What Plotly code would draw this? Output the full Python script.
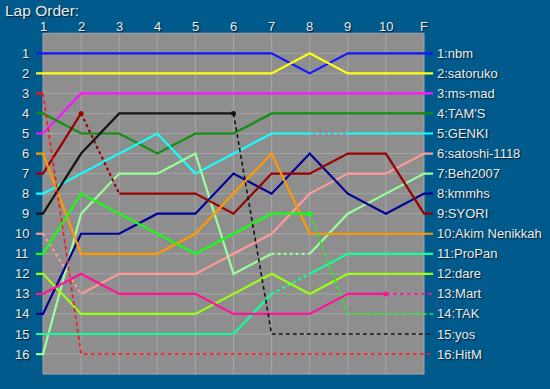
import plotly.graph_objects as go

# ---------------- data ----------------
lap_labels = ["1", "2", "3", "4", "5", "6", "7", "8", "9", "10", "F"]
laps = list(range(1, 12))

drivers = ["nbm", "satoruko", "ms-mad", "TAM'S", "GENKI", "satoshi-1118", "Beh2007",
           "kmmhs", "SYORI", "Akim Nenikkah", "ProPan", "dare", "Mart", "TAK", "yos", "HitM"]

pos_nbm = [1, 1, 1, 1, 1, 1, 1, 2, 1, 1, 1]
pos_satoruko = [2, 2, 2, 2, 2, 2, 2, 1, 2, 2, 2]
pos_msmad = [5, 3, 3, 3, 3, 3, 3, 3, 3, 3, 3]
pos_tams = [4, 5, 5, 6, 5, 5, 4, 4, 4, 4, 4]
pos_genki = [8, 7, 6, 5, 7, 6, 5, 5, 5, 5, 5]
pos_satoshi = [10, 13, 12, 12, 12, 11, 10, 8, 7, 7, 6]
pos_beh = [16, 9, 7, 7, 6, 12, 11, 11, 9, 8, 7]
pos_kmmhs = [14, 10, 10, 9, 9, 7, 8, 6, 8, 9, 8]
pos_syori = [7, 4, 8, 8, 8, 9, 7, 7, 6, 6, 9]
pos_akim = [6, 11, 11, 11, 10, 8, 6, 10, 10, 10, 10]
pos_propan = [15, 15, 15, 15, 15, 15, 13, 12, 11, 11, 11]
pos_dare = [12, 14, 14, 14, 14, 13, 12, 13, 12, 12, 12]
pos_mart = [13, 12, 13, 13, 13, 14, 14, 14, 13, 13, 13]
pos_tak = [11, 8, 9, 10, 11, 10, 9, 9, 14, 14, 14]
pos_yos = [9, 6, 4, 4, 4, 4, 15, 15, 15, 15, 15]
pos_hitm = [3, 16, 16, 16, 16, 16, 16, 16, 16, 16, 16]

positions = [pos_nbm, pos_satoruko, pos_msmad, pos_tams, pos_genki, pos_satoshi, pos_beh,
             pos_kmmhs, pos_syori, pos_akim, pos_propan, pos_dare, pos_mart, pos_tak,
             pos_yos, pos_hitm]

colors = ["#1414ff", "#ffff14", "#ff14ff", "#109010", "#14ffff", "#ff9a9a", "#9aff9a",
          "#000099", "#990000", "#ff9900", "#14ff9a", "#9aff14", "#ff1499", "#14ff14",
          "#141414", "#ff1414"]

# segment styles between consecutive laps: s=solid, o=dotted, d=dashed
seg_styles = ["ssssssssss", "ssssssssss", "ssssssssss", "ssssssssss", "sssssssoss",
              "osssssssss", "ssssssosss", "ssssssssss", "sossssssss", "ssssssssss",
              "ssssssosss", "ssssssssss", "sssssssssd", "sssssssddd", "sssssddddd",
              "dddddddddd"]
marker_laps = {"SYORI": [2], "TAK": [8], "Mart": [10], "yos": [6]}

# ---------------- geometry ----------------
W, H = 550, 389
X0PX, XSTEP = 43.0, 38.1      # pixel of lap 1, pixels per lap
Y0PX, YSTEP = 53.3, 20.05     # pixel of row 1, pixels per row


def xd(px):
    return 1 + (px - X0PX) / XSTEP


def yd(px):
    return 1 + (px - Y0PX) / YSTEP


L_STUB = xd(36)
R_STUB = xd(433)

BG = "#005a8c"
PLOT_BG = "#8e8e8e"
GRID = "#a6a6a6"
TXT = "#e8eef2"
FONT = "Liberation Sans, Arial, sans-serif"
SHADOW = "1px 1px 1px #001a2a"

fig = go.Figure()

dash_map = {"s": "solid", "o": "3px,3px", "d": "4px,3px"}
width_map = {"s": 2.2, "o": 2.2, "d": 1.6}

for name, pos, col, seg in zip(drivers, positions, colors, seg_styles):
    xs = [L_STUB] + laps + [R_STUB]
    ys = [pos[0]] + pos + [pos[-1]]
    styles = ["s"] + list(seg) + [seg[-1]]
    i = 0
    while i < len(styles):
        j = i
        while j + 1 < len(styles) and styles[j + 1] == styles[i]:
            j += 1
        st = styles[i]
        fig.add_trace(go.Scatter(
            x=xs[i:j + 2], y=ys[i:j + 2], mode="lines",
            line=dict(color=col, width=width_map[st], dash=dash_map[st]),
            hoverinfo="skip", showlegend=False))
        i = j + 1
    if name in marker_laps:
        mx = marker_laps[name]
        fig.add_trace(go.Scatter(
            x=mx, y=[pos[l - 1] for l in mx], mode="markers",
            marker=dict(color=col, size=5), hoverinfo="skip", showlegend=False))

# plot background and grid as shapes
shapes = [dict(type="rect", xref="x", yref="y", x0=1, x1=11, y0=0, y1=17,
               fillcolor=PLOT_BG, line=dict(width=0), layer="below")]
for l in laps:
    shapes.append(dict(type="line", xref="x", yref="y", x0=l, x1=l, y0=0, y1=17,
                       line=dict(color=GRID, width=1), layer="below"))
for r in range(0, 18):
    shapes.append(dict(type="line", xref="x", yref="y", x0=1, x1=11, y0=r, y1=r,
                       line=dict(color=GRID, width=1), layer="below"))

annotations = []
tfont = dict(family=FONT, size=13, color=TXT, shadow=SHADOW)
# row numbers
for r in range(1, 17):
    annotations.append(dict(x=xd(31), y=r, xref="x", yref="y", text=str(r),
                            showarrow=False, xanchor="right", yanchor="middle", font=tfont))
# lap labels
for l, lab in zip(laps, lap_labels):
    annotations.append(dict(x=l, y=yd(26), xref="x", yref="y", text=lab,
                            showarrow=False, xanchor="center", yanchor="middle", font=tfont))
# final order labels
for name, pos in zip(drivers, positions):
    annotations.append(dict(x=xd(435), y=pos[-1], xref="x", yref="y",
                            text=f"{pos[-1]}:{name}", showarrow=False,
                            xanchor="left", yanchor="middle", font=tfont))
# title
annotations.append(dict(x=3 / W, y=1 - 10 / H, xref="paper", yref="paper",
                        text="Lap Order:", showarrow=False, xanchor="left",
                        yanchor="middle",
                        font=dict(family=FONT, size=15.5, color=TXT, shadow=SHADOW)))

fig.update_layout(
    width=W, height=H,
    margin=dict(l=0, r=0, t=0, b=0),
    paper_bgcolor=BG, plot_bgcolor="rgba(0,0,0,0)",
    xaxis=dict(range=[xd(0), xd(W)], visible=False, fixedrange=True),
    yaxis=dict(range=[yd(H), yd(0)], visible=False, fixedrange=True),
    shapes=shapes, annotations=annotations,
    showlegend=False,
)

fig.write_html("out.html",
               config={"displayModeBar": False, "staticPlot": True},
               post_script="document.body.style.margin='0';"
                           "document.body.style.overflow='hidden';")
